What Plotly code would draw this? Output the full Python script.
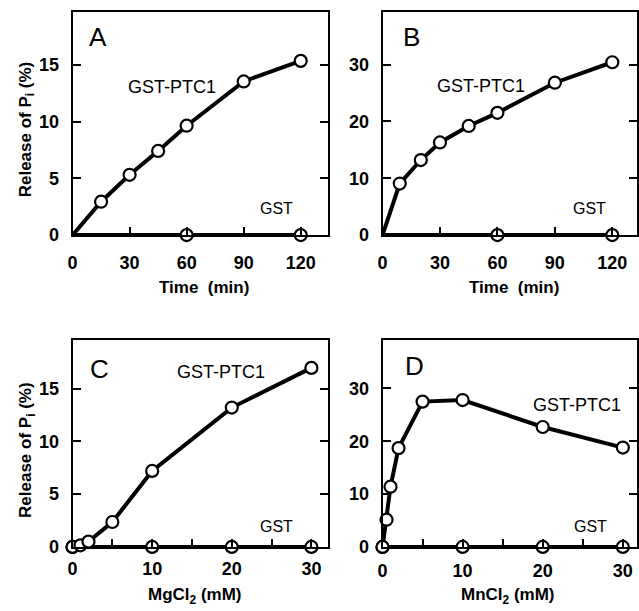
import plotly.graph_objects as go

# ---------------- data ----------------
# Panel A: time course (min), Release of Pi (%)
a_time = [0, 15, 30, 45, 60, 90, 120]
a_ptc1 = [0, 2.94, 5.31, 7.41, 9.63, 13.53, 15.34]
a_gst_time = [0, 60, 120]
a_gst = [0, 0, 0]

# Panel B: time course (min)
b_time = [0, 9, 20, 30, 45, 60, 90, 120]
b_ptc1 = [0, 9.06, 13.2, 16.3, 19.2, 21.5, 26.8, 30.4]
b_gst_time = [0, 60, 120]
b_gst = [0, 0, 0]

# Panel C: MgCl2 (mM)
c_mg = [0, 1, 2, 5, 10, 20, 30]
c_ptc1 = [0, 0.15, 0.5, 2.36, 7.2, 13.2, 16.96]
c_gst_mg = [0, 10, 20, 30]
c_gst = [0, 0, 0, 0]

# Panel D: MnCl2 (mM)
d_mn = [0, 0.5, 1, 2, 5, 10, 20, 30]
d_ptc1 = [0, 5.15, 11.4, 18.7, 27.5, 27.8, 22.7, 18.8]
d_gst_mn = [0, 10, 20, 30]
d_gst = [0, 0, 0, 0]

time_ticks = [0, 30, 60, 90, 120]
conc_ticks = [0, 10, 20, 30]
conc_minor_ticks = [5, 15, 25]
y_ticks_small = [0, 5, 10, 15]
y_ticks_large = [0, 10, 20, 30]

# ---------------- layout helpers ----------------
W, H = 639, 611
FONT = "Liberation Sans, Arial, Helvetica, sans-serif"


def px_x(p):
    return p / W


def px_y(p):
    return 1 - p / H


fig = go.Figure()

LINE = dict(color="black", width=4)
MARK = dict(symbol="circle", size=12, color="white", line=dict(color="black", width=2.2))


def add_series(x, y, axis_idx, marker_from=1):
    sfx = "" if axis_idx == 1 else str(axis_idx)
    fig.add_trace(go.Scatter(x=x, y=y, mode="lines", line=LINE,
                             xaxis="x" + sfx, yaxis="y" + sfx,
                             showlegend=False, cliponaxis=False, hoverinfo="skip"))
    fig.add_trace(go.Scatter(x=x[marker_from:], y=y[marker_from:], mode="markers", marker=MARK,
                             xaxis="x" + sfx, yaxis="y" + sfx,
                             showlegend=False, cliponaxis=False))


# draw GST first then PTC1 so PTC1 markers sit on top
add_series(a_gst_time, a_gst, 1)
add_series(a_time, a_ptc1, 1)
add_series(b_gst_time, b_gst, 2)
add_series(b_time, b_ptc1, 2)
add_series(c_gst_mg, c_gst, 3, 0)
add_series(c_mg, c_ptc1, 3, 0)
add_series(d_gst_mn, d_gst, 4, 0)
add_series(d_mn, d_ptc1, 4, 0)

TICKFONT = dict(family=FONT, size=18, color="black", weight="bold")


def xaxis(domain, rng, tickvals, anchor, standoff, minor_vals=None):
    ax = dict(domain=domain, range=rng, anchor=anchor, tickmode="array", tickvals=tickvals,
              ticktext=[str(v) for v in tickvals],
              showline=True, linecolor="black", linewidth=2, mirror=True,
              ticks="inside", ticklen=8, tickwidth=2, tickcolor="black",
              showgrid=False, zeroline=False, tickfont=TICKFONT,
              ticklabelstandoff=standoff, fixedrange=True)
    if minor_vals is not None:
        ax["minor"] = dict(tickmode="array", tickvals=minor_vals, ticks="inside", ticklen=8,
                           tickwidth=2, tickcolor="black", showgrid=False)
    return ax


def yaxis(domain, rng, tickvals, anchor):
    return dict(domain=domain, range=rng, anchor=anchor, tickvals=tickvals,
                showline=True, linecolor="black", linewidth=2, mirror="ticks",
                ticks="inside", ticklen=8, tickwidth=2, tickcolor="black",
                showgrid=False, zeroline=False, tickfont=TICKFONT,
                ticklabelstandoff=8, fixedrange=True)


xA = [px_x(68.3), px_x(326.7)]
xB = [px_x(381.7), 1.0]
yTop = [px_y(239), px_y(12.7)]
yBot = [px_y(556), px_y(346)]

fig.update_layout(
    width=W, height=H,
    margin=dict(l=0, r=0, t=0, b=0),
    paper_bgcolor="white", plot_bgcolor="white",
    font=dict(family=FONT, color="black"),
    xaxis=xaxis(xA, [0, 134.4], time_ticks, "y", 10),
    yaxis=yaxis(yTop, [0, 19.6], y_ticks_small, "x"),
    xaxis2=xaxis(xB, [0, 132.9], time_ticks, "y2", 10),
    yaxis2=yaxis(yTop, [0, 39.15], y_ticks_large, "x2"),
    xaxis3=xaxis(xA, [0, 32.1], conc_ticks, "y3", 4, conc_minor_ticks),
    yaxis3=yaxis(yBot, [0, 19.57], y_ticks_small, "x3"),
    xaxis4=xaxis(xB, [0, 31.77], conc_ticks, "y4", 6, conc_minor_ticks),
    yaxis4=yaxis(yBot, [0, 39.1], y_ticks_large, "x4"),
)


def note(text, x, y, size, rot=0, weight="normal", yanchor="middle"):
    fig.add_annotation(text=text, x=px_x(x), y=px_y(y), xref="paper", yref="paper",
                       showarrow=False, textangle=rot, xanchor="center", yanchor=yanchor,
                       font=dict(family=FONT, size=size, color="black", weight=weight))


# panel letters
note("A", 94, 38, 26)
note("B", 410.7, 38, 26)
note("C", 95.7, 375, 26)
note("D", 414, 372, 26)

# series labels
note("GST-PTC1", 169, 88, 18)
note("GST-PTC1", 481.7, 87, 18)
note("GST-PTC1", 218, 378, 18)
note("GST-PTC1", 578, 412, 18)
note("GST", 275, 212, 16)
note("GST", 590.7, 212, 16)
note("GST", 275, 535, 16)
note("GST", 591.7, 535, 16)

# axis titles
note("Release of P<sub>i</sub> (%)", 21.7, 131, 17, rot=-90, weight="bold")
note("Release of P<sub>i</sub> (%)", 21.7, 457, 17, rot=-90, weight="bold")
note("Time  (min)", 201.7, 292, 17, weight="bold")
note("Time  (min)", 515, 292, 17, weight="bold")
note("MgCl<sub>2</sub> (mM)", 192, 593, 17, weight="bold", yanchor="top")
note("MnCl<sub>2</sub> (mM)", 509, 593, 17, weight="bold", yanchor="top")

fig.write_html(
    "out.html",
    config={"displayModeBar": False},
    post_script="document.body.style.margin='0';document.body.style.padding='0';"
                "document.documentElement.style.overflow='hidden';document.body.style.overflow='hidden';",
)
